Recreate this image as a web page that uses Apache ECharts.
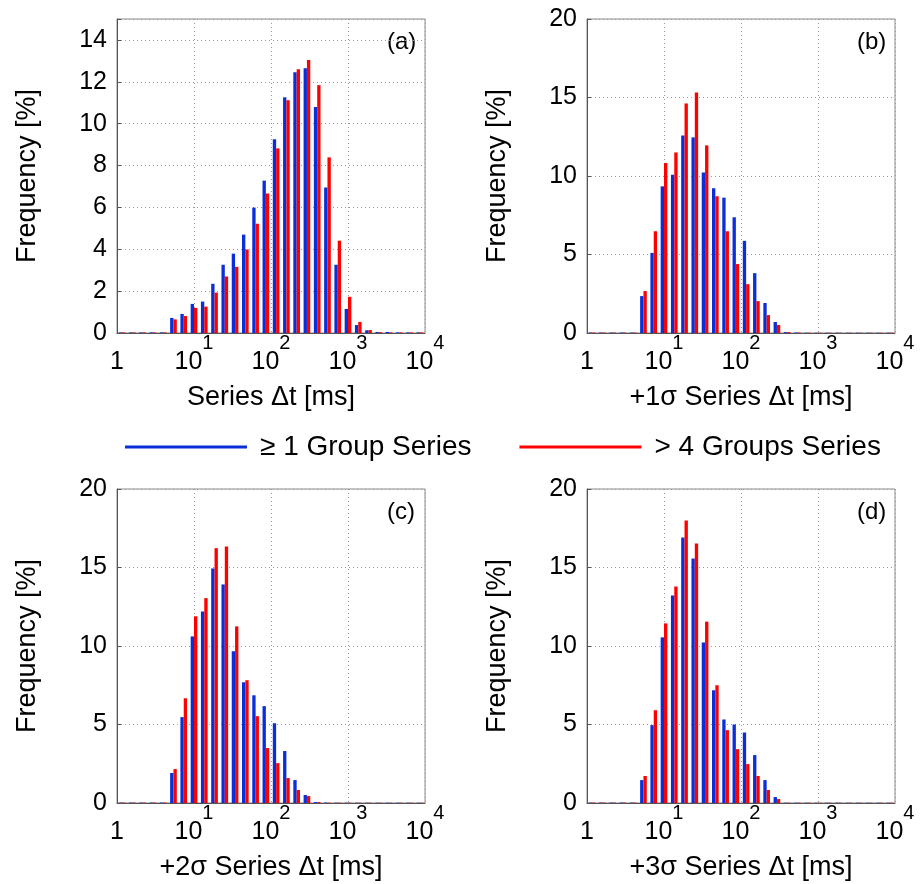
<!DOCTYPE html>
<html lang="en">
<head>
    <meta charset="UTF-8">
    <script src="https://cdn.jsdelivr.net/npm/echarts@6/dist/echarts.min.js"></script>
</head>
<body style="margin:0;background:#fff;">
    <div id="main" style="width: 922px; height: 884px;"></div>
    <script>
        // bin centres [ms], 30 log bins from 1 to 1e4
        var binCenters = [1.17, 1.58, 2.15, 2.93, 3.98, 5.41, 7.36, 10, 13.6, 18.5,
                          25.1, 34.1, 46.4, 63.1, 85.8, 117, 158, 215, 293, 398,
                          541, 736, 1000, 1359, 1848, 2512, 3415, 4642, 6310, 8577];

        // panel (a) Series dt
        var aBlue = [0.03, 0.03, 0.03, 0.03, 0.03, 0.72, 0.91, 1.39, 1.50, 2.35,
                     3.26, 3.79, 4.70, 5.99, 7.28, 9.25, 11.26, 12.46, 12.65, 10.8,
                     6.95, 3.26, 1.15, 0.38, 0.13, 0.05, 0.05, 0.03, 0.03, 0.03];
        var aRed  = [0.03, 0.03, 0.03, 0.03, 0.03, 0.65, 0.81, 1.2, 1.26, 1.93,
                     2.7, 3.16, 3.99, 5.22, 6.66, 8.82, 11.12, 12.6, 13.04, 11.84,
                     8.39, 4.41, 1.73, 0.53, 0.14, 0.04, 0.03, 0.03, 0.03, 0.03];
        // panel (b) +1 sigma
        var bBlue = [0.03, 0.03, 0.03, 0.03, 0.03, 2.35, 5.1, 9.34, 10.08, 12.58,
                     12.46, 10.23, 9.22, 8.62, 7.37, 5.87, 3.81, 1.91, 0.70, 0.06,
                     0.03, 0.02, 0.02, 0.02, 0.02, 0.02, 0.02, 0.02, 0.02, 0.02];
        var bRed  = [0.03, 0.03, 0.03, 0.03, 0.03, 2.67, 6.48, 10.83, 11.5, 14.62,
                     15.32, 11.95, 8.71, 6.48, 4.39, 3.11, 2.03, 1.14, 0.51, 0.06,
                     0.03, 0.02, 0.02, 0.02, 0.02, 0.02, 0.02, 0.02, 0.02, 0.02];
        // panel (c) +2 sigma
        var cBlue = [0.03, 0.03, 0.03, 0.03, 0.03, 1.91, 5.47, 10.61, 12.2, 14.94,
                     13.92, 9.66, 7.69, 6.86, 6.17, 5.08, 3.31, 1.46, 0.51, 0.06,
                     0.03, 0.02, 0.02, 0.02, 0.02, 0.02, 0.02, 0.02, 0.02, 0.02];
        var cRed  = [0.03, 0.03, 0.03, 0.03, 0.03, 2.16, 6.67, 11.89, 13.05, 16.23,
                     16.33, 11.25, 7.82, 5.53, 3.5, 2.54, 1.59, 0.83, 0.44, 0.06,
                     0.02, 0.02, 0.02, 0.02, 0.02, 0.02, 0.02, 0.02, 0.02, 0.02];
        // panel (d) +3 sigma
        var dBlue = [0.03, 0.03, 0.03, 0.03, 0.03, 1.46, 4.96, 10.55, 13.22, 16.91,
                     15.57, 10.23, 7.18, 5.32, 5.0, 4.49, 3.05, 1.46, 0.38, 0.02,
                     0.02, 0.02, 0.02, 0.02, 0.02, 0.02, 0.02, 0.02, 0.02, 0.02];
        var dRed  = [0.03, 0.03, 0.03, 0.03, 0.03, 1.72, 5.91, 11.44, 13.79, 17.99,
                     16.53, 11.55, 7.5, 4.64, 3.43, 2.48, 1.72, 0.83, 0.25, 0.02,
                     0.02, 0.02, 0.02, 0.02, 0.02, 0.02, 0.02, 0.02, 0.02, 0.02];

        var seriesNames = ['\u2265 1 Group Series', '> 4 Groups Series'];
        var xTitles = ['Series \u0394t [ms]', '+1\u03c3 Series \u0394t [ms]',
                       '+2\u03c3 Series \u0394t [ms]', '+3\u03c3 Series \u0394t [ms]'];
        var panelTags = ['(a)', '(b)', '(c)', '(d)'];
        var yMax = [15, 20, 20, 20];
        var yStep = [2, 5, 5, 5];
        var blueData = [aBlue, bBlue, cBlue, dBlue];
        var redData = [aRed, bRed, cRed, dRed];

        var FONT = 'Liberation Sans, Arial, Helvetica, sans-serif';
        var BLUE = '#0a2ed8';
        var RED = '#ff0000';

        var boxes = [
            {left: 117, top: 19},
            {left: 587, top: 19},
            {left: 117, top: 489},
            {left: 587, top: 489}
        ];

        var grid = [], xAxis = [], yAxis = [], series = [], graphic = [];

        boxes.forEach(function (b, i) {
            grid.push({
                left: b.left, top: b.top, width: 308, height: 314,
                show: true, borderColor: '#8a8a8a', borderWidth: 1
            });
            // hidden category axis carrying the bins
            xAxis.push({
                type: 'category', gridIndex: i, data: binCenters,
                axisLine: {show: false}, axisTick: {show: false},
                axisLabel: {show: false}, splitLine: {show: false}
            });
            // visible log10 axis for labels and grid lines
            xAxis.push({
                type: 'value', gridIndex: i, min: 0, max: 4, interval: 1,
                position: 'bottom',
                name: xTitles[i], nameLocation: 'middle', nameGap: 51,
                nameTextStyle: {fontFamily: FONT, fontSize: 27, color: '#000'},
                axisLine: {show: true, lineStyle: {color: '#555', width: 1}},
                axisTick: {show: false},
                splitLine: {show: true, lineStyle: {color: '#999', type: [1, 3], width: 1}},
                axisLabel: {
                    margin: 8, color: '#000', fontFamily: FONT,
                    formatter: function (v) {
                        if (v === 0) return '{base|1}';
                        return '{base|10}{sup|' + v + '}';
                    },
                    rich: {
                        base: {fontSize: 25, lineHeight: 25, fontFamily: FONT, padding: [17, 0, 0, 0]},
                        sup: {fontSize: 20, lineHeight: 20, fontFamily: FONT, padding: [0, 0, 21, 0]}
                    }
                }
            });
            yAxis.push({
                type: 'value', gridIndex: i, min: 0, max: yMax[i], interval: yStep[i],
                name: 'Frequency [%]', nameLocation: 'middle', nameGap: 76,
                nameTextStyle: {fontFamily: FONT, fontSize: 27, color: '#000'},
                axisLine: {show: true, lineStyle: {color: '#555', width: 1}},
                axisTick: {show: true, inside: true, length: 4, lineStyle: {color: '#555'}},
                splitLine: {show: true, lineStyle: {color: '#999', type: [1, 3], width: 1}},
                axisLabel: {
                    margin: 10, fontSize: 25, fontFamily: FONT, color: '#000',
                    formatter: function (v) { return v % yStep[i] === 0 ? String(v) : ''; }
                }
            });
            series.push({
                name: seriesNames[0], type: 'bar', xAxisIndex: 2 * i, yAxisIndex: i,
                data: blueData[i], barGap: '0%', barCategoryGap: '35%',
                itemStyle: {color: BLUE}, animation: false
            });
            series.push({
                name: seriesNames[1], type: 'bar', xAxisIndex: 2 * i, yAxisIndex: i,
                data: redData[i], barGap: '0%', barCategoryGap: '35%',
                itemStyle: {color: RED}, animation: false
            });
            graphic.push({
                type: 'text', left: b.left + 270, top: b.top + 11,
                style: {text: panelTags[i], font: '24px ' + FONT, fill: '#000'}
            });
        });

        var chart = echarts.init(document.getElementById('main'));
        chart.setOption({
            animation: false,
            backgroundColor: '#fff',
            legend: {
                data: seriesNames,
                left: 120, top: 428,
                icon: 'rect', itemWidth: 122, itemHeight: 3, itemGap: 48,
                textStyle: {fontFamily: FONT, fontSize: 28, color: '#000', padding: [0, 0, 0, 8]}
            },
            grid: grid,
            xAxis: xAxis,
            yAxis: yAxis,
            series: series,
            graphic: graphic
        });
    </script>
</body>
</html>
